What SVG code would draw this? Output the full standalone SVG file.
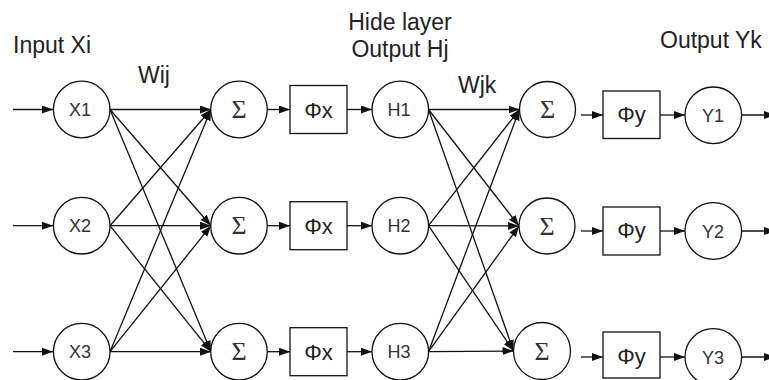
<svg xmlns="http://www.w3.org/2000/svg" width="769" height="380" viewBox="0 0 769 380">
<style>
  .c { fill: #fff; stroke: #111; stroke-width: 1.3; }
  .b { fill: #fff; stroke: #111; stroke-width: 1.3; }
  .l { fill: none; stroke: #111; stroke-width: 1.3; marker-end: url(#ah); }
  .n { font-family: "Liberation Sans", Arial, sans-serif; font-size: 18px; fill: #333; text-anchor: middle; }
  .s { font-family: "Liberation Serif", "Times New Roman", serif; font-size: 26px; fill: #333; text-anchor: middle; }
  .f { font-family: "Liberation Sans", Arial, sans-serif; font-size: 22px; fill: #222; text-anchor: middle; }
  .t { font-family: "Liberation Sans", Arial, sans-serif; font-size: 23px; fill: #222; }
</style>
<defs>
  <marker id="ah" markerUnits="userSpaceOnUse" markerWidth="12" markerHeight="9" refX="11" refY="4" orient="auto">
    <path d="M0,0 L11,4 L0,8 z" fill="#111"/>
  </marker>
</defs>
<rect width="769" height="380" fill="#fff"/>

<g id="labels">
  <text class="t" x="13" y="53">Input Xi</text>
  <text class="t" x="138" y="83">Wij</text>
  <text class="t" x="400" y="30" text-anchor="middle">Hide layer</text>
  <text class="t" x="400" y="57" text-anchor="middle">Output Hj</text>
  <text class="t" x="458" y="93">Wjk</text>
  <text class="t" x="660" y="48">Output Yk</text>
</g>

<g id="connectors">
  <!-- inputs -->
  <line class="l" x1="13" y1="109.5" x2="53" y2="109.5"/>
  <line class="l" x1="13" y1="225.7" x2="53" y2="225.7"/>
  <line class="l" x1="13" y1="351.7" x2="53" y2="351.7"/>
  <!-- layer 1 weights -->
  <line class="l" x1="110" y1="109.5" x2="211" y2="109.5"/>
  <line class="l" x1="110" y1="109.5" x2="211" y2="225.7"/>
  <line class="l" x1="110" y1="109.5" x2="211" y2="351.7"/>
  <line class="l" x1="110" y1="225.7" x2="211" y2="109.5"/>
  <line class="l" x1="110" y1="225.7" x2="211" y2="225.7"/>
  <line class="l" x1="110" y1="225.7" x2="211" y2="351.7"/>
  <line class="l" x1="110" y1="351.7" x2="211" y2="109.5"/>
  <line class="l" x1="110" y1="351.7" x2="211" y2="225.7"/>
  <line class="l" x1="110" y1="351.7" x2="211" y2="351.7"/>
  <!-- sigma -> phi x -> H -->
  <line class="l" x1="267" y1="109.5" x2="290" y2="109.5"/>
  <line class="l" x1="267" y1="225.7" x2="290" y2="225.7"/>
  <line class="l" x1="267" y1="351.7" x2="290" y2="351.7"/>
  <line class="l" x1="347" y1="109.5" x2="372" y2="109.5"/>
  <line class="l" x1="347" y1="225.7" x2="372" y2="225.7"/>
  <line class="l" x1="347" y1="351.7" x2="372" y2="351.7"/>
  <!-- layer 2 weights -->
  <line class="l" x1="428.5" y1="109.5" x2="519.5" y2="109.5"/>
  <line class="l" x1="428.5" y1="109.5" x2="519" y2="226"/>
  <line class="l" x1="428.5" y1="109.5" x2="513.5" y2="351"/>
  <line class="l" x1="428.5" y1="225.7" x2="519.5" y2="109.5"/>
  <line class="l" x1="428.5" y1="225.7" x2="519" y2="226"/>
  <line class="l" x1="428.5" y1="225.7" x2="513.5" y2="351"/>
  <line class="l" x1="428.5" y1="351.7" x2="519.5" y2="109.5"/>
  <line class="l" x1="428.5" y1="351.7" x2="519" y2="226"/>
  <line class="l" x1="428.5" y1="351.7" x2="513.5" y2="351"/>
  <!-- sigma2 -> phi y -> Y -> out -->
  <line class="l" x1="581" y1="115" x2="603" y2="115"/>
  <line class="l" x1="581" y1="231" x2="603" y2="231"/>
  <line class="l" x1="581" y1="357" x2="603" y2="357"/>
  <line class="l" x1="660" y1="115" x2="685" y2="115"/>
  <line class="l" x1="660" y1="231" x2="685" y2="231"/>
  <line class="l" x1="660" y1="357" x2="685" y2="357"/>
  <line class="l" x1="742" y1="115" x2="775" y2="115"/>
  <line class="l" x1="742" y1="231" x2="775" y2="231"/>
  <line class="l" x1="742" y1="357" x2="775" y2="357"/>
</g>

<g id="X1"><circle class="c" cx="81.7" cy="109.5" r="28.3"/><text class="n" x="80" y="116">X1</text></g>
<g id="X2"><circle class="c" cx="81.7" cy="225.7" r="28.3"/><text class="n" x="80" y="232.2">X2</text></g>
<g id="X3"><circle class="c" cx="81.7" cy="351.7" r="28.3"/><text class="n" x="80" y="358.2">X3</text></g>

<g id="S1"><circle class="c" cx="239" cy="109.5" r="28.3"/><text class="s" x="239" y="118">Σ</text></g>
<g id="S2"><circle class="c" cx="239" cy="225.7" r="28.3"/><text class="s" x="239" y="234.2">Σ</text></g>
<g id="S3"><circle class="c" cx="239" cy="351.7" r="28.3"/><text class="s" x="239" y="360.2">Σ</text></g>

<g id="PX1"><rect class="b" x="290" y="85.5" width="57" height="48"/><text class="f" x="318.5" y="117.5">Φx</text></g>
<g id="PX2"><rect class="b" x="290" y="201.7" width="57" height="48"/><text class="f" x="318.5" y="233.7">Φx</text></g>
<g id="PX3"><rect class="b" x="290" y="327.7" width="57" height="48"/><text class="f" x="318.5" y="359.7">Φx</text></g>

<g id="H1"><circle class="c" cx="400.3" cy="109.5" r="28.3"/><text class="n" x="399" y="116">H1</text></g>
<g id="H2"><circle class="c" cx="400.3" cy="225.7" r="28.3"/><text class="n" x="399" y="232.2">H2</text></g>
<g id="H3"><circle class="c" cx="400.3" cy="351.7" r="28.3"/><text class="n" x="399" y="358.2">H3</text></g>

<g id="T1"><circle class="c" cx="547.5" cy="109.5" r="28"/><text class="s" x="547.5" y="118">Σ</text></g>
<g id="T2"><circle class="c" cx="547" cy="226" r="28"/><text class="s" x="547" y="234.5">Σ</text></g>
<g id="T3"><circle class="c" cx="542" cy="351" r="28.5"/><text class="s" x="542" y="359.5">Σ</text></g>

<g id="PY1"><rect class="b" x="603" y="91" width="57" height="47.5"/><text class="f" x="631.5" y="121.5">Φy</text></g>
<g id="PY2"><rect class="b" x="603" y="207" width="57" height="48"/><text class="f" x="631.5" y="237.5">Φy</text></g>
<g id="PY3"><rect class="b" x="603" y="332" width="57" height="46"/><text class="f" x="631.5" y="363.5">Φy</text></g>

<g id="Y1"><circle class="c" cx="713.3" cy="115.3" r="28.3"/><text class="n" x="713" y="121.8">Y1</text></g>
<g id="Y2"><circle class="c" cx="713.3" cy="231" r="28.3"/><text class="n" x="713" y="237.5">Y2</text></g>
<g id="Y3"><circle class="c" cx="713.3" cy="357" r="28.3"/><text class="n" x="713" y="363.5">Y3</text></g>
</svg>
